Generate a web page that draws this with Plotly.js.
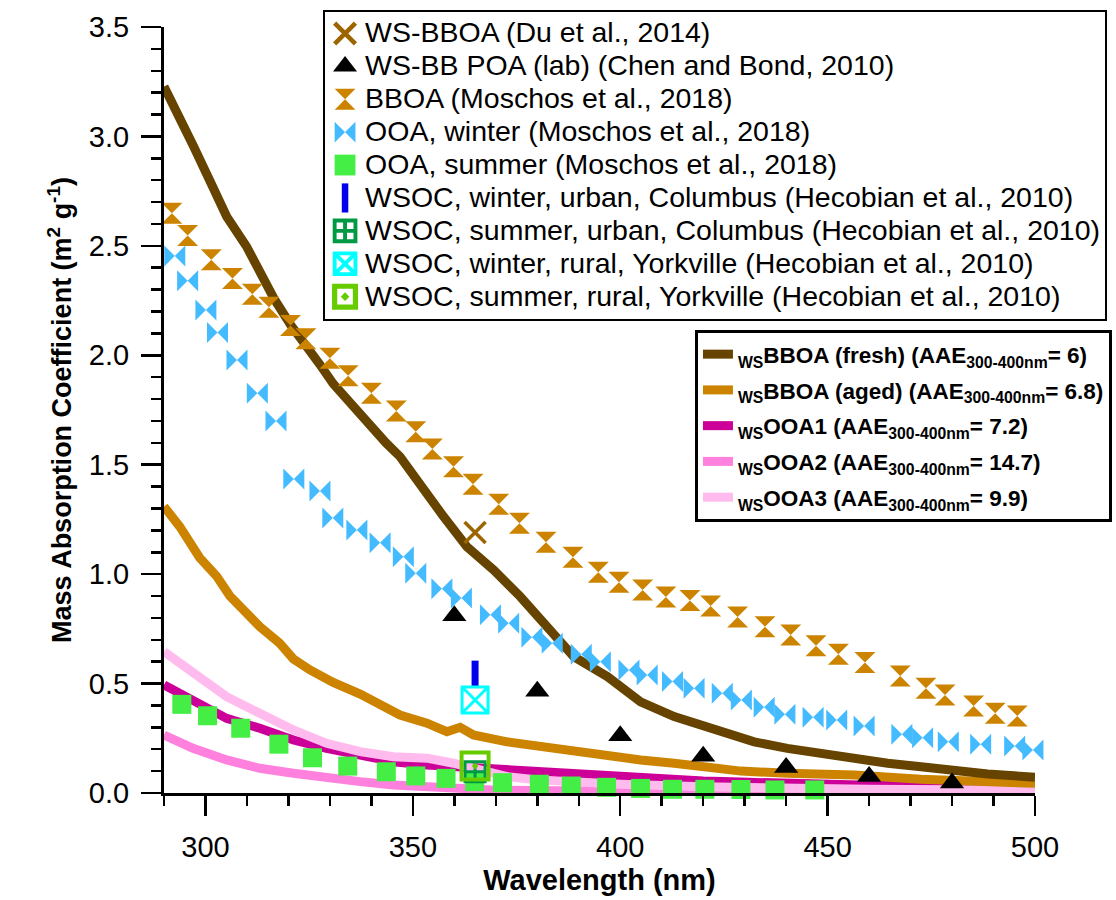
<!DOCTYPE html>
<html><head><meta charset="utf-8">
<script src="https://cdn.plot.ly/plotly-3.0.1.min.js"></script>
<style>
body{margin:0;background:#fff}
#chart{width:1116px;height:900px}
text.legendtext:not([data-unformatted^="<b>"]){font-size:28.5px !important;}
g.legend path.scatterpts{transform:translate(20px,0px) scale(1.3);}
</style>
</head><body><div id="chart"></div>
<script>
// ---- line series (this study) ----
const wl_fresh = [290,293,297,301,305.1,309.9,313.1,316.5,320.5,324.2,327.5,330.8,334.1,337,340,343.5,346.9,350.9,357.4,363,369.5,375.9,380.7,388.8,396.9,404.9,413,421,429.1,432.3,440.3,448.4,456.4,464.5,472.5,480.6,488.6,500];
const mac_fresh = [3.228,3.12,2.96,2.80,2.634,2.497,2.375,2.26,2.14,2.05,1.96,1.87,1.796,1.73,1.67,1.60,1.537,1.43,1.263,1.126,1.019,0.897,0.79,0.623,0.532,0.417,0.349,0.303,0.257,0.234,0.204,0.181,0.151,0.136,0.12,0.10,0.087,0.072];
const wl_aged = [290,293.8,298.6,302.7,305.9,308.5,313.1,317.9,321.2,325.2,330.8,337.3,342.1,346.9,353.4,358.2,361.4,364.6,372.7,380.7,388.8,396.9,404.9,413,421,429.1,440.3,456.4,472.5,488.6,500];
const mac_aged = [1.309,1.217,1.075,0.99,0.90,0.845,0.76,0.684,0.612,0.562,0.505,0.452,0.40,0.356,0.319,0.28,0.30,0.265,0.234,0.212,0.189,0.166,0.151,0.136,0.12,0.10,0.09,0.082,0.063,0.052,0.044];
const wl_ooa1 = [290,297,305.1,313.1,321.2,329.2,337.3,345.3,353.4,360.6,372.7,380.7,392,404.9,420,429,445,460,480,500];
const mac_ooa1 = [0.494,0.425,0.341,0.296,0.242,0.204,0.174,0.143,0.128,0.12,0.105,0.09,0.08,0.067,0.055,0.05,0.04,0.035,0.03,0.027];
const wl_ooa2 = [290,297,305.1,313.1,321.2,329.2,337.3,345.3,353.4,360.6,370,385,400,430,460,500];
const mac_ooa2 = [0.265,0.204,0.151,0.113,0.09,0.067,0.052,0.037,0.029,0.018,0.013,0.01,0.008,0.006,0.005,0.004];
const wl_ooa3 = [290,297,305.1,313.1,321.2,329.2,337.3,345.3,353.4,359.8,372.7,380,390,400,420,440,460,480,500];
const mac_ooa3 = [0.646,0.547,0.44,0.364,0.288,0.227,0.189,0.166,0.159,0.136,0.075,0.06,0.048,0.04,0.028,0.02,0.017,0.015,0.014];

// ---- literature markers ----
const du_wl = [365];
const du_mac = [1.19];
const chen_wl = [360,380,400,420,440,460,480];
const chen_mac = [0.81,0.465,0.262,0.168,0.117,0.075,0.046];
const bboa_wl = [291.9,295.7,301.4,306.5,311.3,315.3,320.5,324.2,330,334.4,340,346,350.7,354.7,359.8,364.5,370.7,375.7,382.1,388.6,394.7,399.7,405.4,411,416.8,421.8,428.3,434.9,441.1,447.2,452.6,459,467.5,473.7,478.3,485.2,490.4,495.7];
const bboa_mac = [2.649,2.547,2.436,2.351,2.279,2.22,2.136,2.076,1.987,1.906,1.827,1.746,1.651,1.572,1.491,1.411,1.319,1.233,1.146,1.077,1.009,0.963,0.928,0.896,0.879,0.855,0.804,0.76,0.722,0.673,0.634,0.596,0.535,0.479,0.448,0.398,0.364,0.352];
const ooaw_wl = [292.6,295.7,300.1,302.9,307.6,312.5,317,321.3,327.6,330.7,336.5,342.1,347.7,350.7,357,361.7,368.7,373.1,378.7,383.6,390.6,395.2,402.1,406.5,412.6,417.8,424.6,429.2,434.7,439.7,446.5,452.2,458.8,467.9,472.9,479.1,486.9,495.1,499.5];
const ooaw_mac = [2.454,2.34,2.207,2.104,1.979,1.827,1.70,1.435,1.38,1.257,1.202,1.143,1.079,1.004,0.933,0.891,0.814,0.776,0.712,0.684,0.634,0.60,0.562,0.539,0.509,0.479,0.456,0.425,0.392,0.36,0.346,0.334,0.306,0.268,0.253,0.234,0.223,0.215,0.197];
const ooas_wl = [294.3,300.5,308.5,317.7,325.8,334.3,343.6,350.7,358,364.9,371.6,380.5,388.2,396.7,404.9,412.6,420.4,429.1,437.3,446.9];
const ooas_mac = [0.405,0.353,0.296,0.223,0.161,0.123,0.097,0.078,0.067,0.052,0.047,0.04,0.032,0.026,0.021,0.017,0.017,0.016,0.014,0.014];
const wsoc_wu_wl = [365], wsoc_wu_mac = [0.544];
const wsoc_su_wl = [365], wsoc_su_mac = [0.097];
const wsoc_wr_wl = [365], wsoc_wr_mac = [0.425];
const wsoc_sr_wl = [365], wsoc_sr_mac = [0.123];

const xTicks = [300,350,400,450,500];

const lineNames = [
  '<b><sub>WS</sub>BBOA (fresh) (AAE<sub>300-400nm</sub>= 6)</b>',
  '<b><sub>WS</sub>BBOA (aged) (AAE<sub>300-400nm</sub>= 6.8)</b>',
  '<b><sub>WS</sub>OOA1 (AAE<sub>300-400nm</sub>= 7.2)</b>',
  '<b><sub>WS</sub>OOA2 (AAE<sub>300-400nm</sub>= 14.7)</b>',
  '<b><sub>WS</sub>OOA3 (AAE<sub>300-400nm</sub>= 9.9)</b>'
];
const markerNames = [
  'WS-BBOA (Du et al., 2014)',
  'WS-BB POA (lab) (Chen and Bond, 2010)',
  'BBOA (Moschos et al., 2018)',
  'OOA, winter (Moschos et al., 2018)',
  'OOA, summer (Moschos et al., 2018)',
  'WSOC, winter, urban, Columbus (Hecobian et al., 2010)',
  'WSOC, summer, urban, Columbus (Hecobian et al., 2010)',
  'WSOC, winter, rural, Yorkville (Hecobian et al., 2010)',
  'WSOC, summer, rural, Yorkville (Hecobian et al., 2010)'
];

function ln(x, y, name, color, rank) {
  return {x: x, y: y, name: name, type: 'scatter', mode: 'lines', legend: 'legend2',
          legendgroup: 'g' + rank, legendrank: rank,
          line: {color: color, width: 9}};
}
function mk(x, y, name, symbol, color, size, lw, lc) {
  return {x: x, y: y, name: name, type: 'scatter', mode: 'markers', legend: 'legend', cliponaxis: false,
          marker: {symbol: symbol, color: color, size: size, line: {color: lc || color, width: lw || 0}}};
}

const data = [
  ln(wl_ooa1, mac_ooa1, lineNames[2], '#CC0099', 3),
  ln(wl_ooa2, mac_ooa2, lineNames[3], '#FF80DD', 4),
  ln(wl_ooa3, mac_ooa3, lineNames[4], '#FFBBEE', 5),
  ln(wl_aged, mac_aged, lineNames[1], '#CC8400', 2),
  ln(wl_fresh, mac_fresh, lineNames[0], '#664400', 1),
  mk(du_wl, du_mac, markerNames[0], 'x-thin-open', '#9C6500', 21, 3.5),
  mk(chen_wl, chen_mac, markerNames[1], 'triangle-up', '#000000', 21),
  mk(bboa_wl, bboa_mac, markerNames[2], 'hourglass', '#CC8400', 21),
  mk(ooaw_wl, ooaw_mac, markerNames[3], 'bowtie', '#44BBFF', 21),
  mk(ooas_wl, ooas_mac, markerNames[4], 'square', '#44EE44', 19),
  mk(wsoc_wu_wl, wsoc_wu_mac, markerNames[5], 'line-ns-open', '#0000EE', 19, 7),
  mk(wsoc_su_wl, wsoc_su_mac, markerNames[6], 'square-cross-open', '#009944', 20, 3),
  mk(wsoc_wr_wl, wsoc_wr_mac, markerNames[7], 'square-x-open', '#00FFFF', 26, 3),
  mk(wsoc_sr_wl, wsoc_sr_mac, markerNames[8], 'square-open-dot', '#66CC00', 27, 4)
];

const fontFam = 'Arial, "Liberation Sans", sans-serif';
const layout = {
  width: 1116, height: 900,
  margin: {l: 164, r: 81, t: 27, b: 107, autoexpand: false},
  paper_bgcolor: '#fff', plot_bgcolor: '#fff',
  font: {family: fontFam, color: '#000', size: 28},
  showlegend: true,
  xaxis: {
    range: [290, 500], tickmode: 'array', tickvals: xTicks, ticktext: xTicks.map(String),
    ticks: 'outside', ticklen: 20, tickwidth: 2.5, tickcolor: '#000',
    showline: true, linewidth: 3, linecolor: '#000', showgrid: false, zeroline: false,
    tickfont: {size: 29}, ticklabelstandoff: 6,
    minor: {dtick: 10, tick0: 290, ticks: 'outside', ticklen: 10, tickwidth: 2.5, tickcolor: '#000', showgrid: false},
    title: {text: 'Wavelength (nm)', font: {size: 29, weight: 'bold'}, standoff: 8}
  },
  yaxis: {
    range: [0, 3.5], tick0: 0, dtick: 0.5, tickformat: '.1f',
    ticks: 'outside', ticklen: 20, tickwidth: 2.5, tickcolor: '#000',
    showline: true, linewidth: 3, linecolor: '#000', showgrid: false, zeroline: false,
    tickfont: {size: 29}, ticklabelstandoff: 6,
    minor: {dtick: 0.1, ticks: 'outside', ticklen: 10, tickwidth: 2.5, tickcolor: '#000', showgrid: false},
    title: {text: 'Mass Absorption Coefficient (m<sup>2</sup> g<sup>-1</sup>)', font: {size: 27, weight: 'bold'}, standoff: 10}
  },
  legend: {
    x: 0.1826, y: 1.0222, xanchor: 'left', yanchor: 'top',
    bgcolor: '#fff', bordercolor: '#000', borderwidth: 2,
    font: {size: 23, family: fontFam}, tracegroupgap: 0
  },
  legend2: {
    x: 0.6096, y: 0.6044, xanchor: 'left', yanchor: 'top',
    bgcolor: '#fff', bordercolor: '#000', borderwidth: 3,
    font: {size: 22.5, family: fontFam}, traceorder: 'grouped', tracegroupgap: 3.5
  }
};
Plotly.newPlot('chart', data, layout, {displayModeBar: false, staticPlot: true});
</script></body></html>
